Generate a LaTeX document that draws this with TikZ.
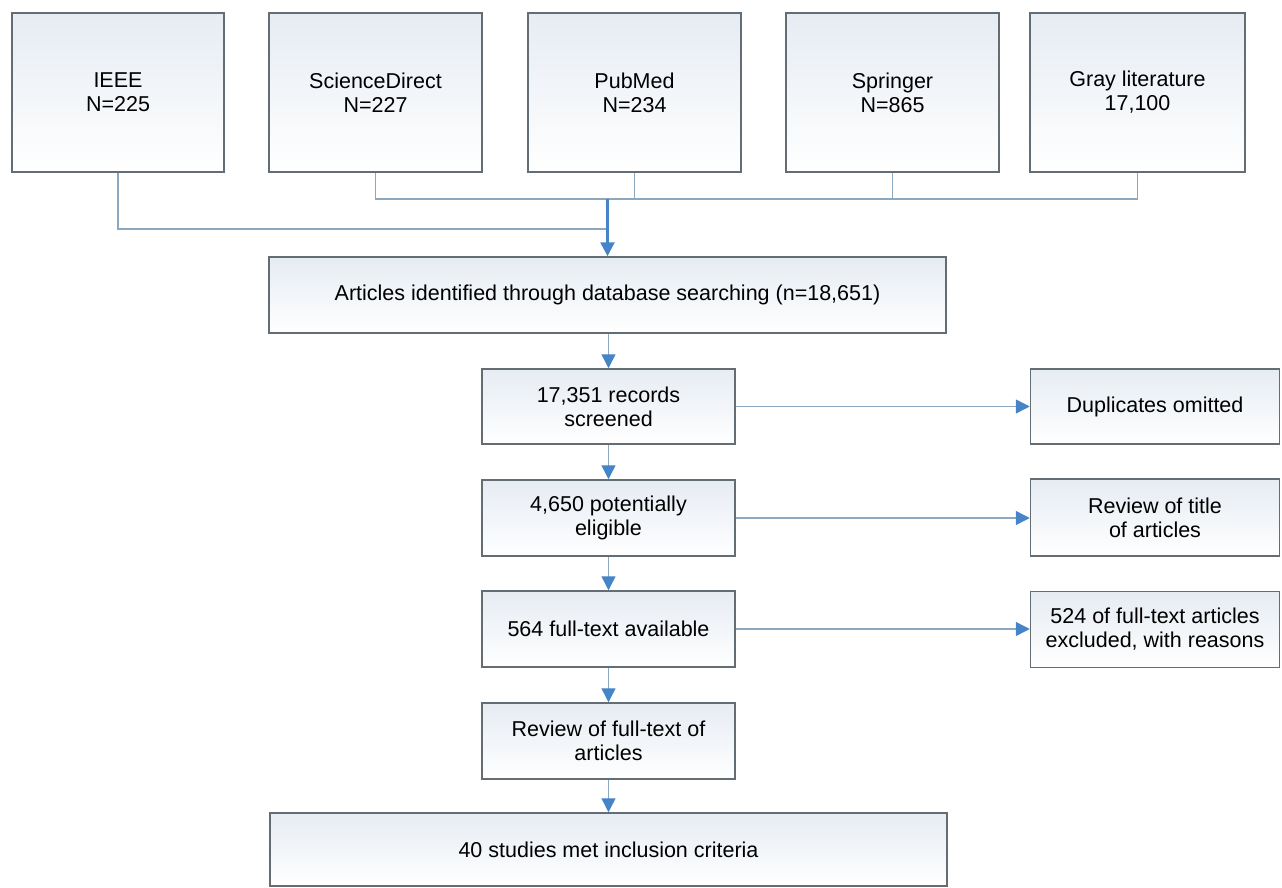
\documentclass[tikz,border=0pt]{standalone}
\usepackage{fontspec}
\setmainfont{Liberation Sans}
\usetikzlibrary{arrows.meta}
\definecolor{boxline}{RGB}{100,108,116}
\definecolor{boxtop}{RGB}{230,236,243}
\definecolor{connline}{RGB}{140,168,192}
\definecolor{headblue}{RGB}{70,132,200}
\tikzset{
  box/.style={draw=boxline, line width=1.5pt, top color=boxtop, bottom color=white,
    align=center, inner sep=0pt, font=\fontsize{21.5}{24}\selectfont},
  conn/.style={draw=connline, line width=1.4pt},
  arr/.style={conn, -{Triangle[length=14pt,width=14pt,color=headblue]}},
  mainarr/.style={draw=headblue, line width=2.6pt, -{Triangle[length=14pt,width=14pt,color=headblue]}}
}
\begin{document}
\begin{tikzpicture}[x=1pt,y=-1pt]
\useasboundingbox (0,0) rectangle (1282,888);
% top sources
\node[box, minimum width=212pt, minimum height=159pt] (ieee) at (118,92.5) {IEEE\\N=225};
\node[box, minimum width=213pt, minimum height=159pt] (sd) at (375.5,92.5) {ScienceDirect\\N=227};
\node[box, minimum width=213pt, minimum height=159pt] (pm) at (634.5,92.5) {PubMed\\N=234};
\node[box, minimum width=213pt, minimum height=159pt] (sp) at (892.5,92.5) {Springer\\N=865};
\node[box, minimum width=215pt, minimum height=159pt] (gray) at (1137.5,92.5) {Gray literature\\17,100};
% main column
\node[box, minimum width=677pt, minimum height=76pt] (art) at (607.5,295) {Articles identified through database searching (n=18,651)};
\node[box, minimum width=253pt, minimum height=75pt] (scr) at (608.5,406.5) {17,351 records\\screened};
\node[box, minimum width=253pt, minimum height=76pt] (elig) at (608.5,518) {4,650 potentially\\eligible};
\node[box, minimum width=253pt, minimum height=76pt] (full) at (608.5,629) {564 full-text available};
\node[box, minimum width=253pt, minimum height=76pt] (revf) at (608.5,741) {Review of full-text of\\articles};
\node[box, minimum width=677pt, minimum height=73pt] (fin) at (608.5,849.5) {40 studies met inclusion criteria};
% right column
\node[box, minimum width=249pt, minimum height=75pt] (dup) at (1155,406.5) {Duplicates omitted};
\node[box, minimum width=249pt, minimum height=77pt] (revt) at (1155,517.5) {Review of title\\of articles};
\node[box, minimum width=249pt, minimum height=76pt] (excl) at (1155,629.5) {524 of full-text articles\\excluded, with reasons};
% connectors from sources
\coordinate (hub) at (607.5,199);
\coordinate (ieeej) at (607.5,229);
\draw[conn] (ieee.south) |- (ieeej);
\draw[conn] (sd.south) |- (hub);
\draw[conn] (gray.south) |- (hub);
\draw[conn] (pm.south) -- (pm.south |- hub);
\draw[conn] (sp.south) -- (sp.south |- hub);
\draw[mainarr] (hub) -- (hub |- art.north);
% vertical flow
\draw[arr] (art.south -| scr.north) -- (scr.north);
\draw[arr] (scr) -- (elig);
\draw[arr] (elig) -- (full);
\draw[arr] (full) -- (revf);
\draw[arr] (revf.south) -- (revf.south |- fin.north);
% side arrows
\draw[arr] (scr.east) -- (dup.west);
\draw[arr] (elig.east) -- (revt.west |- elig.east);
\draw[arr] (full.east) -- (excl.west |- full.east);
\end{tikzpicture}
\end{document}
